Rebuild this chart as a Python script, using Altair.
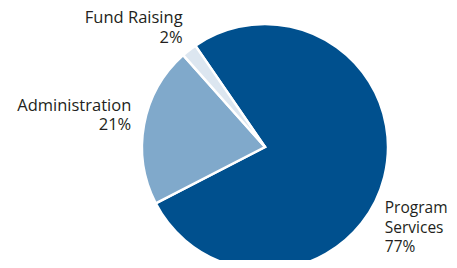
import math
import altair as alt
import pandas as pd

categories = ["Program Services", "Administration", "Fund Raising"]
values = [77, 21, 2]
label_lines = [["Program", "Services", "77%"], ["Administration", "21%"], ["Fund Raising", "2%"]]
colors = ["#00508e", "#80a9cb", "#dce6f0"]

df = pd.DataFrame({
    "category": categories,
    "value": values,
    "order": list(range(len(categories))),
    "label": ["\n".join(l) for l in label_lines],
})

start = math.radians(-34.5)
theta_scale = alt.Scale(domain=[0, 100], range=[start, start + 2 * math.pi])
cx, cy = 257, 139

base = alt.Chart(df).transform_window(
    cum="sum(value)", sort=[alt.SortField("order")]
).transform_calculate(
    s="datum.cum - datum.value", mid="datum.cum - datum.value / 2"
)

arcs = base.mark_arc(outerRadius=123, stroke="white", strokeWidth=2.5).encode(
    theta=alt.Theta("s:Q", scale=theta_scale, stack=False),
    theta2="cum:Q",
    color=alt.Color("category:N", scale=alt.Scale(domain=categories, range=colors), legend=None),
    x=alt.value(cx),
    y=alt.value(cy),
)

label_style = {
    "Program Services": dict(align="left", radius=140, dx=-16, dy=27, size=15.5),
    "Administration": dict(align="right", radius=135, dx=-1, dy=-16.5, size=16.5),
    "Fund Raising": dict(align="right", radius=140, dx=4, dy=-18.5, size=16.5),
}

layers = [arcs]
for cat in categories:
    st = label_style[cat]
    t = base.transform_filter(alt.datum.category == cat).mark_text(
        align=st["align"], baseline="middle", lineBreak="\n", lineHeight=19.5,
        fontSize=st["size"], font="Open Sans", color="#231f20",
        radius=st["radius"], dx=st["dx"], dy=st["dy"],
    ).encode(
        theta=alt.Theta("mid:Q", scale=theta_scale, stack=False),
        text="label:N",
        x=alt.value(cx),
        y=alt.value(cy),
    )
    layers.append(t)

chart = alt.layer(*layers).properties(
    width=441, height=252, autosize=alt.AutoSizeParams(type="none"), padding=0
).configure_view(stroke=None)

chart.save("out.html", embed_options={"renderer": "svg", "actions": False})
